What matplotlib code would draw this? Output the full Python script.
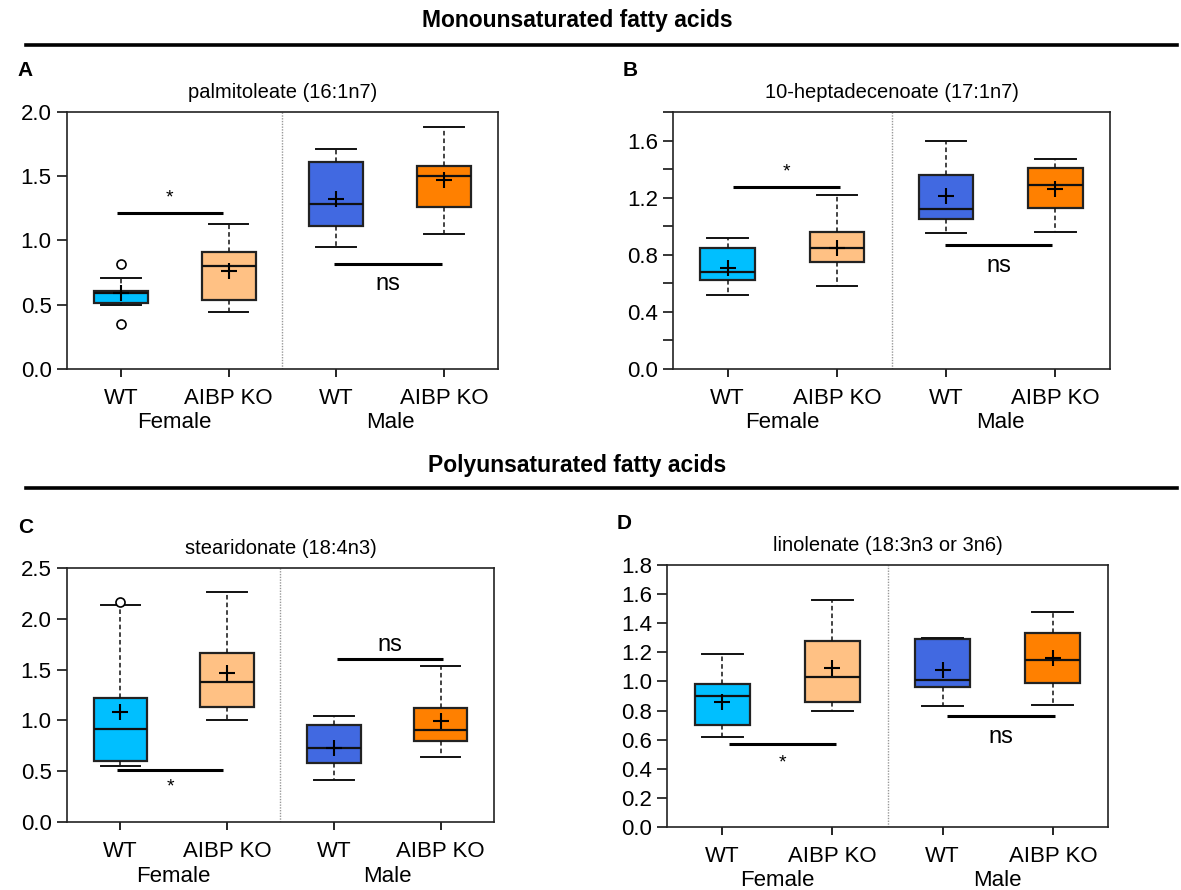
import matplotlib
matplotlib.use("Agg")
import matplotlib.pyplot as plt
import matplotlib.transforms as mtransforms
from matplotlib.ticker import MultipleLocator

plt.rcParams['font.family'] = ['Liberation Sans', 'DejaVu Sans']

# groups: Female WT, Female AIBP KO, Male WT, Male AIBP KO
group_labels = ["WT", "AIBP KO", "WT", "AIBP KO"]
sex_labels = ["Female", "Male"]
box_colors = ["#00BFFF", "#FFC184", "#4169E1", "#FF8000"]

# panel A: palmitoleate (16:1n7)
a_whislo = [0.50, 0.44, 0.95, 1.05]
a_q1 = [0.51, 0.54, 1.11, 1.26]
a_med = [0.59, 0.80, 1.28, 1.50]
a_q3 = [0.61, 0.91, 1.61, 1.58]
a_whishi = [0.71, 1.13, 1.71, 1.88]
a_mean = [0.59, 0.76, 1.32, 1.47]
a_fliers = [[0.82, 0.35], [], [], []]

# panel B: 10-heptadecenoate (17:1n7)
b_whislo = [0.52, 0.58, 0.95, 0.96]
b_q1 = [0.62, 0.75, 1.05, 1.13]
b_med = [0.68, 0.85, 1.12, 1.29]
b_q3 = [0.85, 0.96, 1.36, 1.41]
b_whishi = [0.92, 1.22, 1.60, 1.47]
b_mean = [0.71, 0.85, 1.21, 1.26]
b_fliers = [[], [], [], []]

# panel C: stearidonate (18:4n3)
c_whislo = [0.55, 1.00, 0.41, 0.64]
c_q1 = [0.60, 1.13, 0.58, 0.80]
c_med = [0.92, 1.38, 0.73, 0.91]
c_q3 = [1.22, 1.66, 0.95, 1.12]
c_whishi = [2.14, 2.26, 1.04, 1.54]
c_mean = [1.08, 1.47, 0.73, 0.99]
c_fliers = [[2.17], [], [], []]

# panel D: linolenate (18:3n3 or 3n6)
d_whislo = [0.62, 0.80, 0.83, 0.84]
d_q1 = [0.70, 0.86, 0.96, 0.99]
d_med = [0.90, 1.03, 1.01, 1.15]
d_q3 = [0.98, 1.28, 1.29, 1.33]
d_whishi = [1.19, 1.56, 1.30, 1.48]
d_mean = [0.86, 1.09, 1.08, 1.16]
d_fliers = [[], [], [], []]

# significance bars: (x0, x1, y, label, label_y)
a_sig = [(-0.04, 0.95, 1.21, "*", 1.33), (1.98, 2.98, 0.82, "ns", 0.66)]
b_sig = [(0.05, 1.03, 1.275, "*", 1.38), (1.99, 2.97, 0.865, "ns", 0.72)]
c_sig = [(-0.03, 0.96, 0.51, "*", 0.34), (2.03, 3.02, 1.607, "ns", 1.74)]
d_sig = [(0.06, 1.03, 0.57, "*", 0.44), (2.04, 3.02, 0.765, "ns", 0.62)]

fig = plt.figure(figsize=(11.81, 8.90), dpi=100)


def draw_panel(rect, title, letter, whislo, q1, med, q3, whishi, mean, fliers,
               sig, ylim, major, minor):
    ax = fig.add_axes(rect)
    stats = []
    for i in range(4):
        stats.append(dict(whislo=whislo[i], q1=q1[i], med=med[i], q3=q3[i],
                          whishi=whishi[i], mean=mean[i], fliers=fliers[i]))
    parts = ax.bxp(stats, positions=[0, 1, 2, 3], widths=0.5, capwidths=0.37,
                   showmeans=True, patch_artist=True,
                   boxprops=dict(edgecolor="#222222", linewidth=1.6),
                   medianprops=dict(color="#111111", linewidth=1.6),
                   whiskerprops=dict(color="#111111", linestyle=(0, (3, 2)), linewidth=1.1),
                   capprops=dict(color="#111111", linewidth=1.4),
                   meanprops=dict(marker="+", markeredgecolor="black", markersize=12,
                                  markeredgewidth=1.5),
                   flierprops=dict(marker="o", markerfacecolor="white",
                                   markeredgecolor="black", markersize=6.5,
                                   markeredgewidth=1.2))
    for patch, col in zip(parts["boxes"], box_colors):
        patch.set_facecolor(col)

    ax.axvline(1.5, color="#999999", linestyle=(0, (1, 1)), linewidth=1.0)

    for x0, x1, y, lab, ly in sig:
        ax.plot([x0, x1], [y, y], color="black", linewidth=2.2, solid_capstyle="butt")
        size = 14 if lab == "*" else 17
        ax.text((x0 + x1) / 2, ly, lab, ha="center", va="center", fontsize=size)

    ax.set_xlim(-0.5, 3.5)
    ax.set_ylim(*ylim)
    ax.yaxis.set_major_locator(MultipleLocator(major))
    if minor:
        ax.yaxis.set_minor_locator(MultipleLocator(minor))
        ax.tick_params(axis="y", which="minor", length=7, width=1.1, direction="out")
    ax.yaxis.set_major_formatter(plt.FuncFormatter(lambda v, p: "%.1f" % v))
    ax.set_xticks([0, 1, 2, 3])
    ax.set_xticklabels(group_labels, fontsize=16)
    ax.tick_params(axis="x", length=6, width=1.2, pad=8)
    ax.tick_params(axis="y", which="major", length=7, width=1.1, labelsize=16, pad=4)
    for s in ax.spines.values():
        s.set_linewidth(1.2)
        s.set_color("#222222")
    ax.set_title(title, fontsize=14.5, pad=10)

    trans = mtransforms.blended_transform_factory(ax.transData, ax.transAxes)
    px = 54 / (rect[3] * 890)
    for xpos, lab in zip([0.5, 2.5], sex_labels):
        ax.text(xpos, -px, lab, transform=trans, ha="center", va="center", fontsize=16)
    ax.text(-0.115, 1.16, letter, transform=ax.transAxes, fontsize=15,
            fontweight="bold", ha="left", va="center")
    return ax


draw_panel([0.0567, 0.5854, 0.3649, 0.2888], "palmitoleate (16:1n7)", "A",
           a_whislo, a_q1, a_med, a_q3, a_whishi, a_mean, a_fliers, a_sig,
           (0, 2.0), 0.5, None)
draw_panel([0.5699, 0.5854, 0.3700, 0.2888], "10-heptadecenoate (17:1n7)", "B",
           b_whislo, b_q1, b_med, b_q3, b_whishi, b_mean, b_fliers, b_sig,
           (0, 1.8), 0.4, 0.2)
draw_panel([0.0567, 0.0764, 0.3616, 0.2854], "stearidonate (18:4n3)", "C",
           c_whislo, c_q1, c_med, c_q3, c_whishi, c_mean, c_fliers, c_sig,
           (0, 2.5), 0.5, None)
draw_panel([0.5648, 0.0708, 0.3734, 0.2944], "linolenate (18:3n3 or 3n6)", "D",
           d_whislo, d_q1, d_med, d_q3, d_whishi, d_mean, d_fliers, d_sig,
           (0, 1.8), 0.2, None)

# section headers
fig.text(0.489, 1 - 21 / 890, "Monounsaturated fatty acids", ha="center", va="center",
         fontsize=16.5, fontweight="bold")
fig.add_artist(plt.Line2D([26 / 1181, 1177 / 1181], [1 - 45 / 890, 1 - 45 / 890],
                          color="black", linewidth=2.6))
fig.text(0.489, 1 - 465 / 890, "Polyunsaturated fatty acids", ha="center", va="center",
         fontsize=16.5, fontweight="bold")
fig.add_artist(plt.Line2D([26 / 1181, 1177 / 1181], [1 - 488 / 890, 1 - 488 / 890],
                          color="black", linewidth=2.6))

fig.savefig("out.png", dpi=100)
